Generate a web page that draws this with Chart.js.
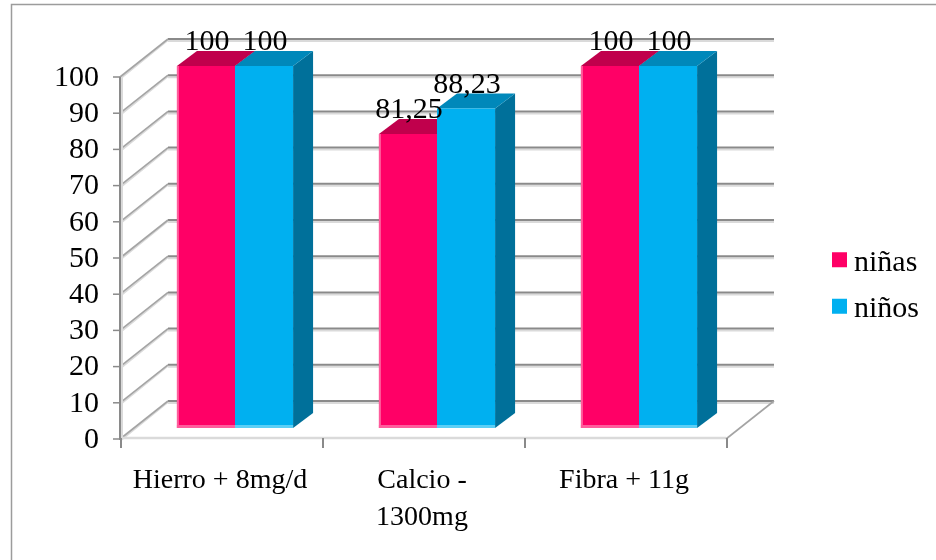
<!DOCTYPE html>
<html>
<head>
<meta charset="utf-8">
<script src="https://cdn.jsdelivr.net/npm/chart.js@4.4.0/dist/chart.umd.min.js"></script>
<style>
  html, body { margin: 0; padding: 0; background: #ffffff; overflow: hidden; }
  canvas { display: block; }
</style>
</head>
<body>
<canvas id="chart" width="936" height="560"></canvas>
<script>
// ---- data ----
const categories = [['Hierro + 8mg/d'], ['Calcio -', '1300mg'], ['Fibra + 11g']];
const seriesNames = ['niñas', 'niños'];
const ninas = [100, 81.25, 100];
const ninos = [100, 88.23, 100];
const yMin = 0;
const yMax = 100;
const yStep = 10;

// ---- styling ----
const FONT_FAMILY = "'Liberation Serif', 'Times New Roman', serif";
const FONT_SIZE = 28;
const NUM_FONT_SIZE = 30;
const FRONT_COLORS = ['#FF0066', '#00B0F0'];
const TOP_COLORS = ['#C0004C', '#0088BA'];
const SIDE_COLORS = ['#9A003D', '#00709A'];
const EDGE_COLORS = ['#FF5C9C', '#5BCFF6'];
const GRID_DARK = '#8A8A8A';
const GRID_LIGHT = '#DADADA';

// 3D offsets relative to the plane of the bars' front faces
const FRONT = { dx: -14, dy: 11 };
const BACK = { dx: 34, dy: -27 };
const DEPTH = { dx: 20, dy: -15 };

const fmt = v => String(v).replace('.', ',');

function line(ctx, x1, y1, x2, y2, color, width) {
  ctx.beginPath();
  ctx.strokeStyle = color;
  ctx.lineWidth = width;
  ctx.moveTo(x1, y1);
  ctx.lineTo(x2, y2);
  ctx.stroke();
}

function poly(ctx, pts, color) {
  ctx.beginPath();
  ctx.moveTo(pts[0][0], pts[0][1]);
  for (let i = 1; i < pts.length; i++) ctx.lineTo(pts[i][0], pts[i][1]);
  ctx.closePath();
  ctx.fillStyle = color;
  ctx.fill();
}

const frame3d = {
  id: 'frame3d',
  beforeDraw(chart) {
    const ctx = chart.ctx;
    ctx.save();
    ctx.strokeStyle = '#9C9C9C';
    ctx.lineWidth = 1.5;
    ctx.strokeRect(11.5, 4.5, chart.width + 50, chart.height + 50);
    ctx.restore();
  },
  beforeDatasetsDraw(chart) {
    const ctx = chart.ctx;
    const area = chart.chartArea;
    const ys = chart.scales.y;
    const L = area.left, R = area.right;
    const y0 = ys.getPixelForValue(yMin);
    const yTop = ys.getPixelForValue(yMax);
    ctx.save();
    ctx.lineCap = 'butt';

    // back wall gridlines and left wall diagonals
    ys.ticks.forEach(t => {
      const yp = ys.getPixelForValue(t.value);
      line(ctx, L + BACK.dx, yp + BACK.dy + 2, R + BACK.dx, yp + BACK.dy + 2, GRID_LIGHT, 2);
      line(ctx, L + BACK.dx, yp + BACK.dy, R + BACK.dx, yp + BACK.dy, GRID_DARK, 2);
      line(ctx, L + FRONT.dx + 1, yp + FRONT.dy + 1, L + BACK.dx, yp + BACK.dy + 1, GRID_LIGHT, 2);
      line(ctx, L + FRONT.dx, yp + FRONT.dy, L + BACK.dx, yp + BACK.dy, '#A4A4A4', 1.6);
      line(ctx, L + FRONT.dx - 7, yp + FRONT.dy, L + FRONT.dx, yp + FRONT.dy, GRID_DARK, 1.5);
    });

    // floor
    line(ctx, L + FRONT.dx, y0 + FRONT.dy - 1, R + FRONT.dx, y0 + FRONT.dy - 1, GRID_LIGHT, 2.5);
    line(ctx, R + FRONT.dx, y0 + FRONT.dy, R + BACK.dx, y0 + BACK.dy, '#A4A4A4', 1.6);

    // front value axis
    line(ctx, L + FRONT.dx + 2, yTop + FRONT.dy, L + FRONT.dx + 2, y0 + FRONT.dy, GRID_LIGHT, 2);
    line(ctx, L + FRONT.dx, yTop + FRONT.dy, L + FRONT.dx, y0 + FRONT.dy + 1, GRID_DARK, 2);

    // category tick marks
    const n = chart.data.labels.length;
    for (let i = 0; i <= n; i++) {
      const bx = L + FRONT.dx + 1 + i * (R - L) / n;
      line(ctx, bx, y0 + FRONT.dy - 1, bx, y0 + FRONT.dy + 9, GRID_DARK, 2);
    }

    // bar sides and tops (front faces are drawn by Chart.js afterwards)
    chart.data.datasets.forEach((ds, di) => {
      const meta = chart.getDatasetMeta(di);
      meta.data.forEach(bar => {
        const p = bar.getProps(['x', 'y', 'base', 'width'], true);
        const l = p.x - p.width / 2, r = p.x + p.width / 2;
        poly(ctx, [[r, p.y], [r + DEPTH.dx, p.y + DEPTH.dy], [r + DEPTH.dx, p.base + DEPTH.dy], [r, p.base]], SIDE_COLORS[di]);
        poly(ctx, [[l, p.y], [l + DEPTH.dx, p.y + DEPTH.dy], [r + DEPTH.dx, p.y + DEPTH.dy], [r, p.y]], TOP_COLORS[di]);
      });
    });
    ctx.restore();
  },
  afterDatasetsDraw(chart) {
    const ctx = chart.ctx;
    ctx.save();
    chart.data.datasets.forEach((ds, di) => {
      const meta = chart.getDatasetMeta(di);
      meta.data.forEach((bar, i) => {
        const p = bar.getProps(['x', 'y', 'base', 'width'], true);
        const l = p.x - p.width / 2, r = p.x + p.width / 2;
        // soft lit edges
        line(ctx, l, p.base - 1.5, r, p.base - 1.5, EDGE_COLORS[di], 3);
        if (di === 0) line(ctx, l + 1, p.y, l + 1, p.base, EDGE_COLORS[di], 2);
        // value label
        ctx.font = NUM_FONT_SIZE + 'px ' + FONT_FAMILY;
        ctx.fillStyle = '#000000';
        ctx.textAlign = 'center';
        ctx.textBaseline = 'alphabetic';
        ctx.fillText(fmt(ds.data[i]), p.x + 1, p.y - 16);
      });
    });
    ctx.restore();
  },
  afterDraw(chart) {
    // legend
    const ctx = chart.ctx;
    const area = chart.chartArea;
    const x = area.right + 92;
    const cy = chart.height / 2 + 3;
    const gap = 46.5;
    ctx.save();
    ctx.font = NUM_FONT_SIZE + 'px ' + FONT_FAMILY;
    ctx.textAlign = 'left';
    ctx.textBaseline = 'alphabetic';
    chart.data.datasets.forEach((ds, di) => {
      const yc = cy + (di - (chart.data.datasets.length - 1) / 2) * gap;
      ctx.fillStyle = ds.backgroundColor;
      ctx.fillRect(x, yc - 7.5, 15, 15);
      ctx.fillStyle = '#000000';
      ctx.fillText(ds.label, x + 22, yc + 11);
    });
    ctx.restore();
  }
};

Chart.defaults.font.family = FONT_FAMILY;
Chart.defaults.font.size = FONT_SIZE;
Chart.defaults.color = '#000000';

new Chart(document.getElementById('chart'), {
  type: 'bar',
  data: {
    labels: categories,
    datasets: [
      { label: seriesNames[0], data: ninas, backgroundColor: FRONT_COLORS[0], borderWidth: 0 },
      { label: seriesNames[1], data: ninos, backgroundColor: FRONT_COLORS[1], borderWidth: 0 }
    ]
  },
  options: {
    responsive: false,
    animation: false,
    devicePixelRatio: 1,
    layout: { padding: { left: 0, top: 66, right: 196, bottom: 0 } },
    datasets: { bar: { barPercentage: 1, categoryPercentage: 0.575 } },
    plugins: {
      legend: { display: false },
      tooltip: { enabled: false }
    },
    scales: {
      x: {
        grid: { display: false, drawTicks: false },
        border: { display: false },
        ticks: {
          padding: 34,
          labelOffset: -15,
          maxRotation: 0,
          autoSkip: false,
          font: { size: FONT_SIZE, lineHeight: 1.32 }
        },
        afterFit(scale) { scale.height = 132; }
      },
      y: {
        min: yMin,
        max: yMax,
        grid: { display: false, drawTicks: false },
        border: { display: false },
        ticks: {
          stepSize: yStep,
          autoSkip: false,
          padding: 35,
          labelOffset: 12,
          font: { size: NUM_FONT_SIZE }
        },
        afterFit(scale) { scale.width = 134; }
      }
    }
  },
  plugins: [frame3d]
});
</script>
</body>
</html>
